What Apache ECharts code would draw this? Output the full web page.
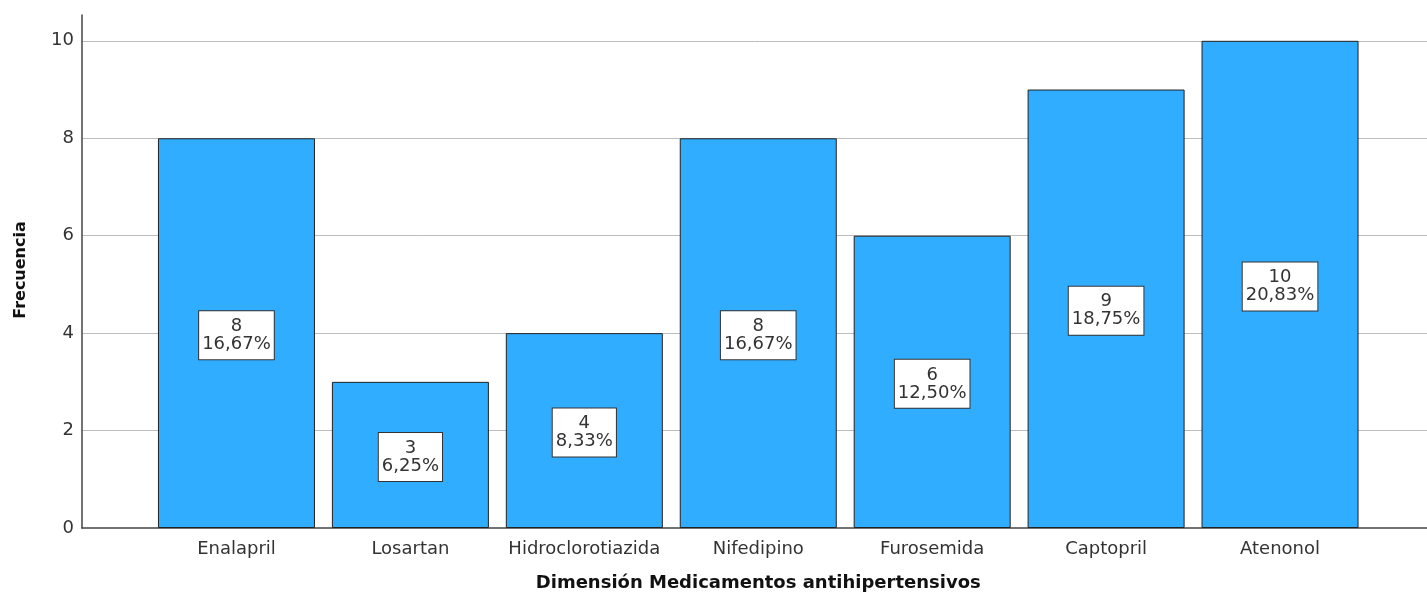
<!DOCTYPE html>
<html>
<head>
<meta charset="utf-8">
<script src="https://cdn.jsdelivr.net/npm/echarts@6/dist/echarts.min.js"></script>
<style>
  html, body { margin: 0; padding: 0; background: #fff; }
  #chart { width: 1427px; height: 594px; }
</style>
</head>
<body>
<div id="chart"></div>
<script>
// Frecuencia por medicamento antihipertensivo
const categories = ['Enalapril', 'Losartan', 'Hidroclorotiazida', 'Nifedipino', 'Furosemida', 'Captopril', 'Atenonol'];
const counts = [8, 3, 4, 8, 6, 9, 10];
const percents = ['16,67%', '6,25%', '8,33%', '16,67%', '12,50%', '18,75%', '20,83%'];
const yTicks = [0, 2, 4, 6, 8, 10];

const FONT = '"DejaVu Sans", Verdana, sans-serif';
const Y_MAX = 10.53;

const chart = echarts.init(document.getElementById('chart'), null, { renderer: 'canvas' });

chart.setOption({
  animation: false,
  backgroundColor: '#ffffff',
  grid: [
    // frame: axis lines, gridlines and tick labels
    { left: 82, right: 0, top: 15, bottom: 66, outerBoundsMode: 'none', containLabel: false },
    // bars, inset from the frame on both sides
    { left: 149.5, right: 60, top: 15, bottom: 66, outerBoundsMode: 'none', containLabel: false }
  ],
  xAxis: [
    {
      type: 'value', gridIndex: 0, min: 0, max: 1,
      axisLine: { show: true, onZero: false, lineStyle: { color: '#444', width: 1.5 } },
      axisTick: { show: false }, axisLabel: { show: false }, splitLine: { show: false }
    },
    {
      type: 'category', gridIndex: 1, data: categories,
      axisLine: { show: false }, axisTick: { show: false },
      axisLabel: { color: '#333', fontSize: 18, fontFamily: FONT, margin: 12, interval: 0 },
      name: 'Dimensión Medicamentos antihipertensivos',
      nameLocation: 'middle', nameGap: 46,
      nameTextStyle: { color: '#111', fontSize: 18, fontWeight: 'bold', fontFamily: FONT }
    }
  ],
  yAxis: [
    {
      type: 'value', gridIndex: 0, min: 0, max: Y_MAX, interval: 2,
      axisLine: { show: true, lineStyle: { color: '#444', width: 1.5 } },
      axisTick: { show: false },
      axisLabel: {
        color: '#333', fontSize: 18, fontFamily: FONT, margin: 8, showMaxLabel: false,
        formatter: v => (yTicks.includes(v) ? String(v) : '')
      },
      splitLine: { show: true, showMinLine: false, showMaxLine: false, lineStyle: { color: '#bdbdbd', width: 1 } }
    },
    {
      type: 'value', gridIndex: 1, min: 0, max: Y_MAX, interval: 2,
      axisLine: { show: false }, axisTick: { show: false },
      axisLabel: { show: false }, splitLine: { show: false }
    }
  ],
  graphic: [
    {
      type: 'text', x: 21, y: 270,
      rotation: Math.PI / 2,
      style: {
        text: 'Frecuencia', fill: '#111', font: 'bold 16px ' + FONT,
        textAlign: 'center', textVerticalAlign: 'middle'
      }
    }
  ],
  series: [
    {
      type: 'bar', xAxisIndex: 1, yAxisIndex: 1,
      data: counts,
      barWidth: 157,
      itemStyle: { color: '#31adff', borderColor: '#222', borderWidth: 1 },
      label: {
        show: true, position: 'inside',
        formatter: p => counts[p.dataIndex] + '\n' + percents[p.dataIndex],
        color: '#333', fontSize: 18, lineHeight: 18, fontFamily: FONT,
        backgroundColor: '#fff', borderColor: '#333', borderWidth: 1,
        padding: [6, 3, 6, 3], align: 'center', offset: [0, 2]
      }
    }
  ]
});
</script>
</body>
</html>
